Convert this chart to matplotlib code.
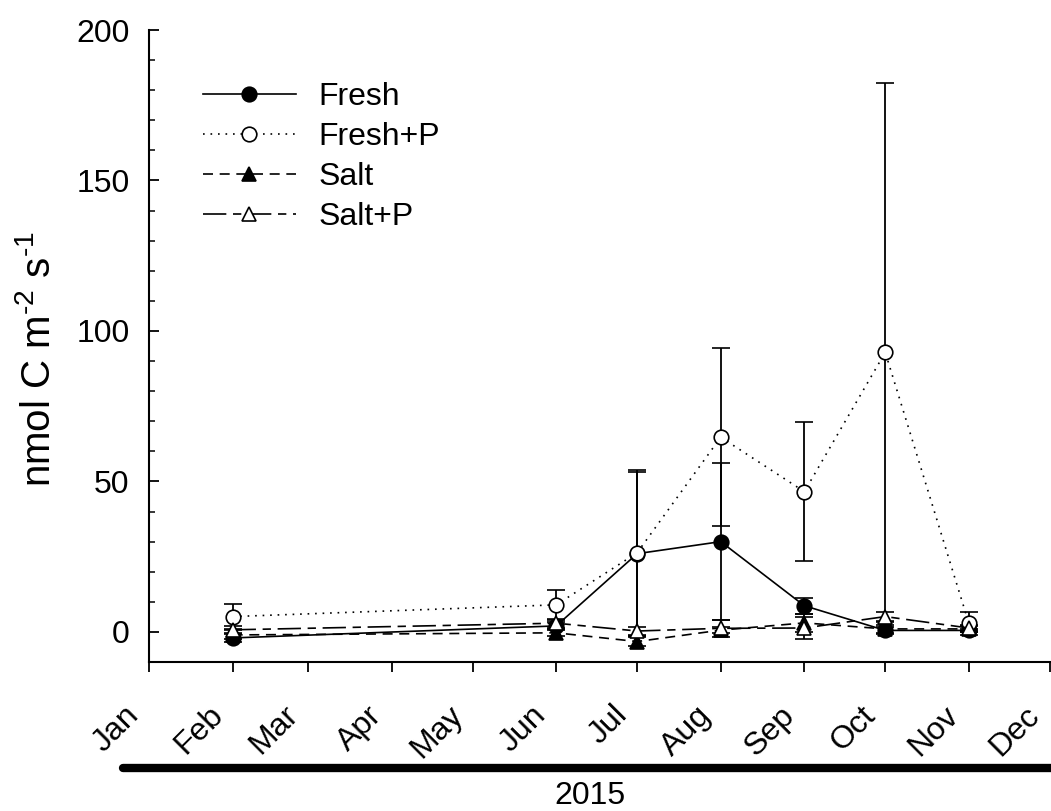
import matplotlib
matplotlib.use('Agg')
import matplotlib.pyplot as plt
import matplotlib.dates as mdates
import matplotlib.transforms as mtransforms
from matplotlib.lines import Line2D
from matplotlib.ticker import MultipleLocator
import pandas as pd

plt.rcParams['font.family'] = ['Liberation Sans', 'DejaVu Sans']
plt.rcParams['mathtext.fontset'] = 'custom'
plt.rcParams['mathtext.rm'] = 'Liberation Sans'
plt.rcParams['mathtext.default'] = 'regular'

# sampling dates (first of each month)
dates = pd.to_datetime(['2015-02-01', '2015-06-01', '2015-07-01', '2015-08-01',
                        '2015-09-01', '2015-10-01', '2015-11-01'])

fresh = [-2.0, 2.0, 26.0, 30.0, 8.7, 0.5, 0.5]
fresh_err = [1.2, 1.2, 27.0, 26.0, 2.7, 1.2, 0.6]
fresh_p = [5.1, 9.0, 26.3, 64.7, 46.6, 92.9, 2.9]
fresh_p_err = [4.1, 5.0, 27.5, 29.5, 23.0, 89.5, 3.8]
salt = [-1.0, -0.3, -3.2, 0.6, 3.0, 1.0, 1.0]
salt_err = [1.5, 1.2, 1.5, 1.0, 2.9, 1.2, 1.0]
salt_p = [0.7, 2.9, 0.3, 1.2, 1.3, 5.1, 1.3]
salt_p_err = [1.2, 1.5, 1.5, 2.8, 3.6, 1.4, 1.0]

series = [
    ('Fresh', fresh, fresh_err, 'o', '-', 'black'),
    ('Fresh+P', fresh_p, fresh_p_err, 'o', (0, (1, 3.5)), 'white'),
    ('Salt', salt, salt_err, '^', (0, (6, 4)), 'black'),
    ('Salt+P', salt_p, salt_p_err, '^', (0, (14, 4, 5, 4)), 'white'),
]

fig = plt.figure(figsize=(10.51, 8.11), dpi=100)
ax = fig.add_axes([0.1418, 0.1837, 0.857, 0.7793])

handles = []
for name, vals, err, mk, ls, fc in series:
    ax.errorbar(dates, vals, yerr=err, fmt=mk, linestyle=ls, color='black',
                ecolor='black', elinewidth=1.3, capsize=6.5, capthick=1.3,
                markersize=10.5, markeredgewidth=1.2, linewidth=1.2,
                markerfacecolor=fc, zorder=3 + (fc == 'white'))
    handles.append(Line2D([], [], color='black', linestyle=ls, linewidth=1.2,
                          marker=mk, markersize=10.5, markeredgewidth=1.2,
                          markerfacecolor=fc, label=name))

ax.set_xlim(pd.Timestamp('2015-01-01'), pd.Timestamp('2015-12-01'))
ax.set_ylim(-10, 200)
ax.set_yticks([0, 50, 100, 150, 200])
ax.yaxis.set_minor_locator(MultipleLocator(10))
ax.xaxis.set_major_locator(mdates.MonthLocator())
ax.xaxis.set_major_formatter(mdates.DateFormatter('%b'))

ax.spines['top'].set_visible(False)
ax.spines['right'].set_visible(False)
for s in ['left', 'bottom']:
    ax.spines[s].set_linewidth(1.5)
ax.tick_params(axis='y', which='major', direction='in', length=7.5, width=1.3,
               labelsize=23, pad=14)
ax.tick_params(axis='y', which='minor', direction='in', length=4.5, width=1.1)
ax.tick_params(axis='x', direction='out', length=7.5, width=1.3, labelsize=23, pad=20)

# rotated month names, nudged left so they end just under each tick
shift = mtransforms.ScaledTranslation(-18 / 72, 0, fig.dpi_scale_trans)
for lbl in ax.get_xticklabels():
    lbl.set_rotation(45)
    lbl.set_ha('right')
    lbl.set_va('top')
    lbl.set_rotation_mode('anchor')
    lbl.set_transform(lbl.get_transform() + shift)

ax.set_ylabel('nmol C m$^{\\text{-}2}$ s$^{\\text{-}1}$', fontsize=29)
ax.yaxis.set_label_coords(-0.101, 0.48)

ax.legend(handles=handles, loc='upper left', bbox_to_anchor=(0.06, 0.918),
          frameon=False, fontsize=23, handlelength=2.9, handletextpad=0.7,
          labelspacing=0.32, borderpad=0, borderaxespad=0)

# year bar under the month labels
fig.add_artist(Line2D([0.117, 1.0], [0.053, 0.053], color='black', linewidth=6,
                      solid_capstyle='round'))
fig.text(0.561, 0.018, '2015', ha='center', va='center', fontsize=23)

fig.savefig('out.png', dpi=100)
